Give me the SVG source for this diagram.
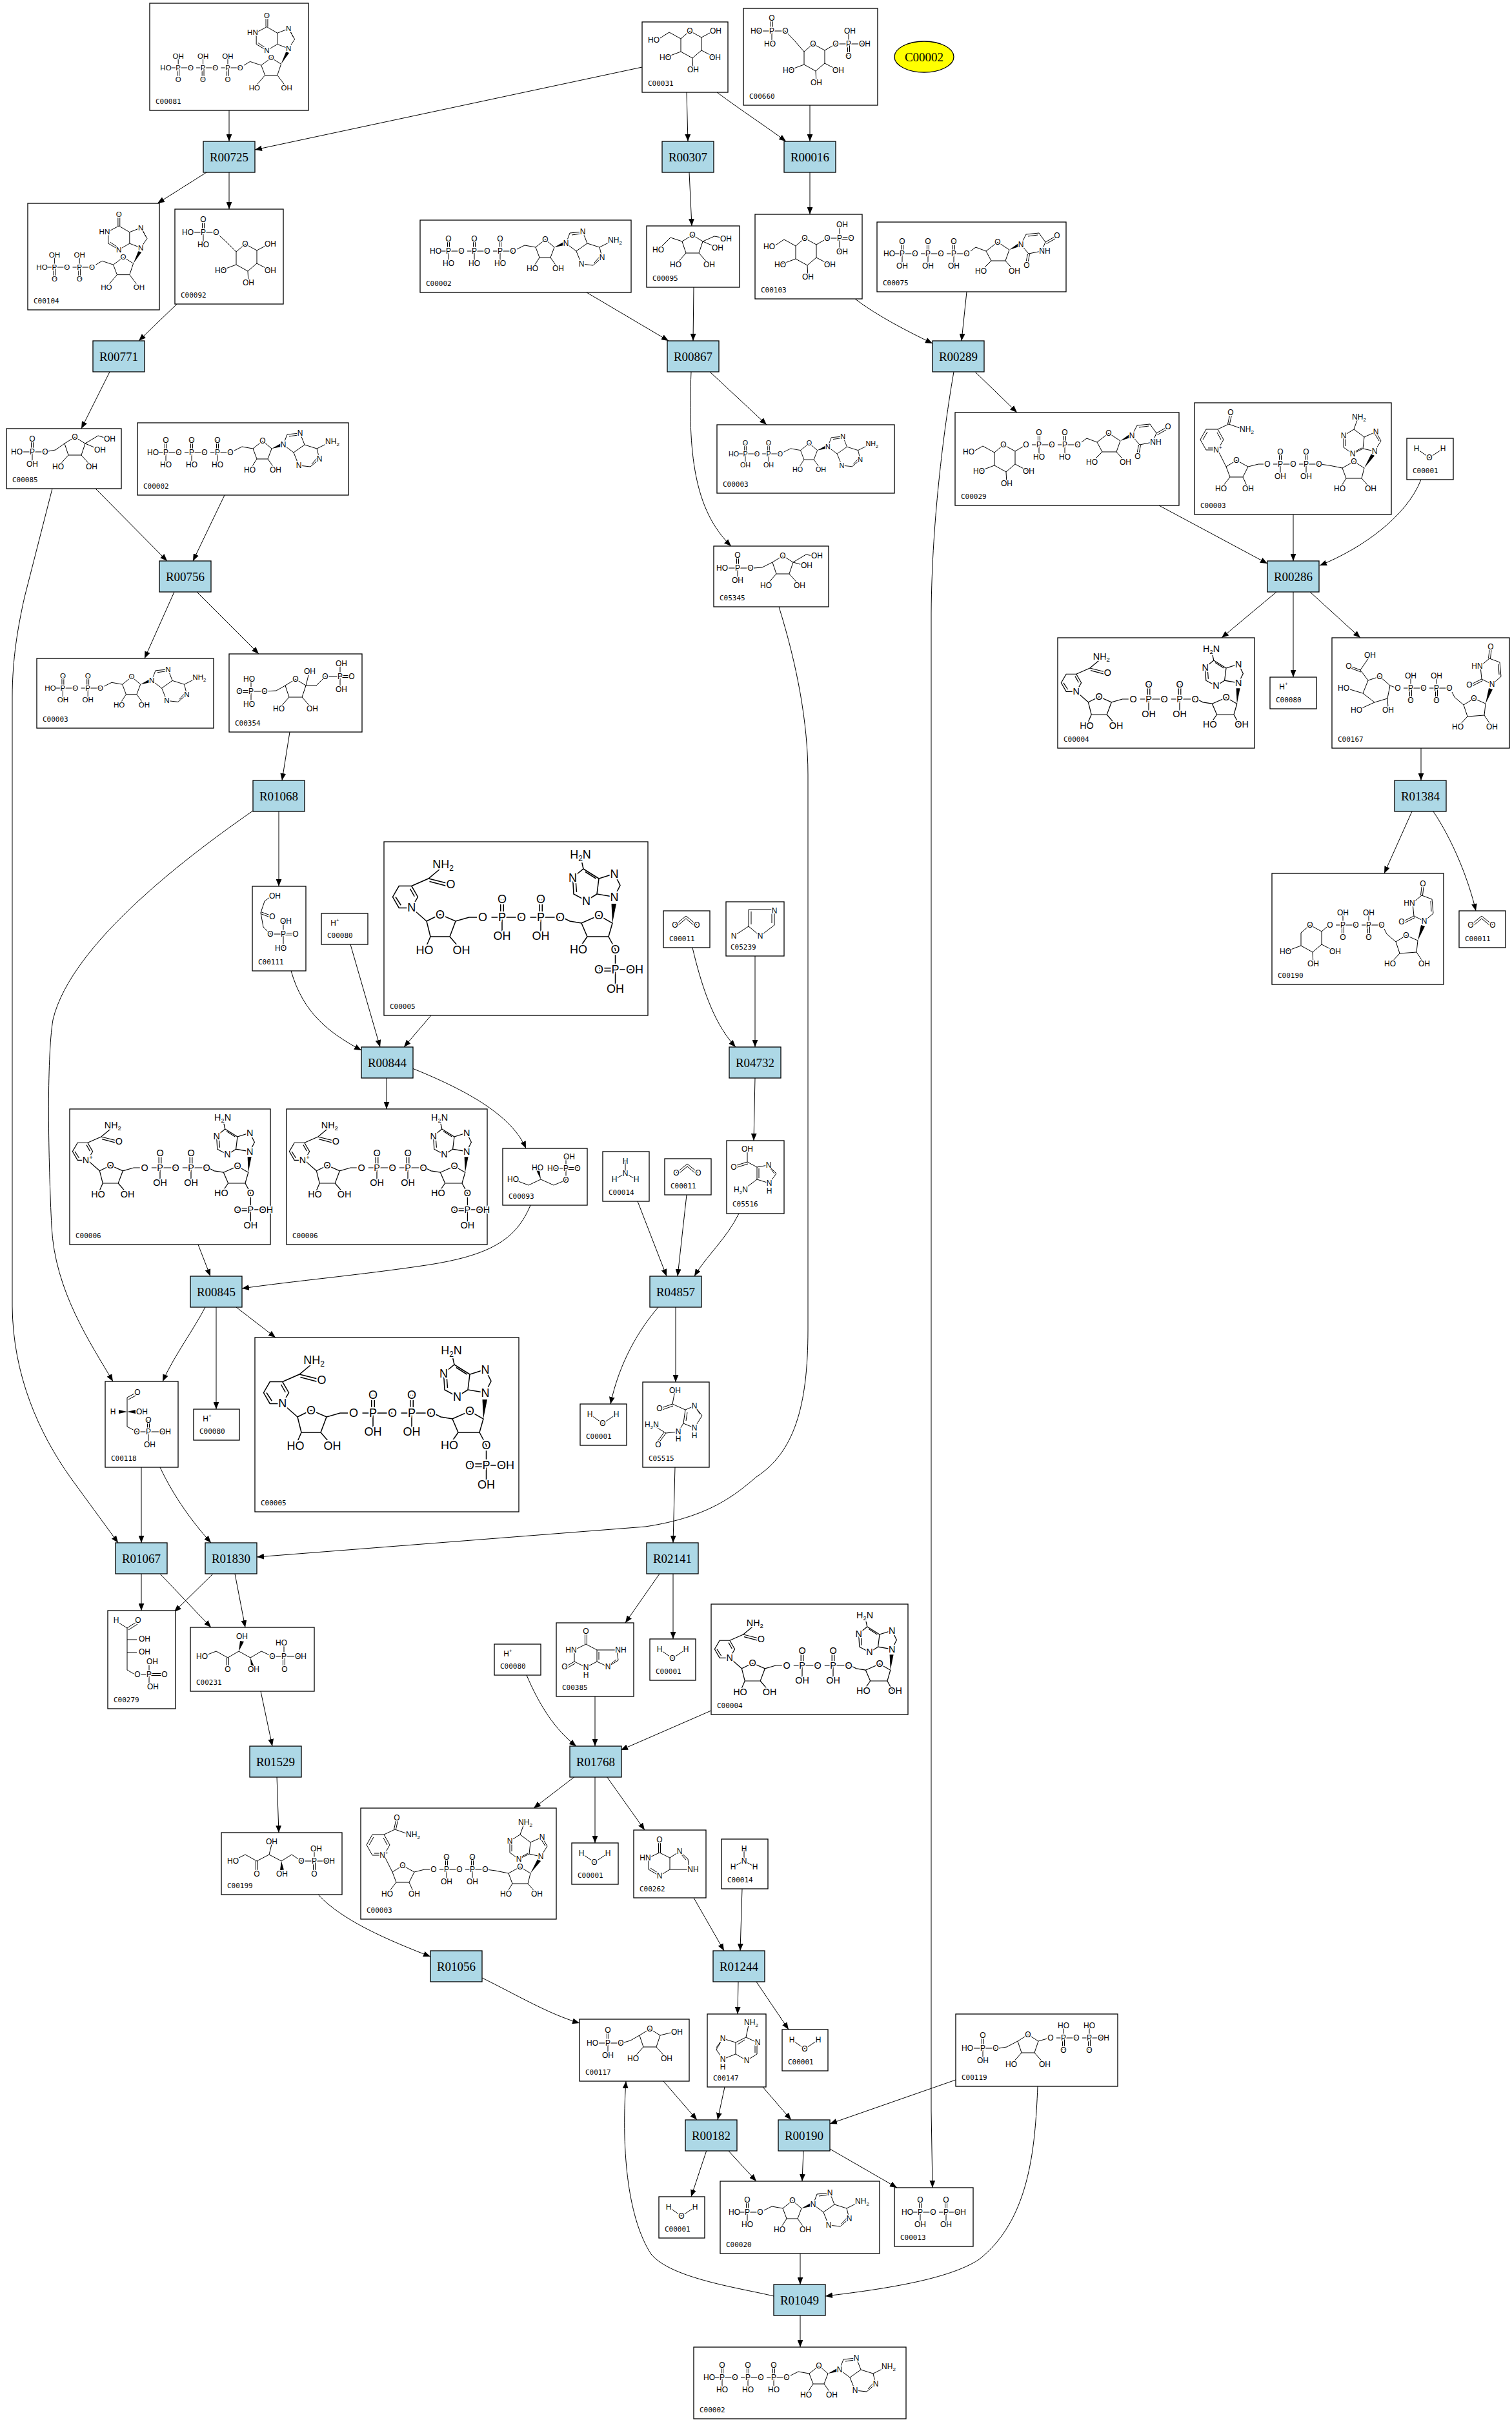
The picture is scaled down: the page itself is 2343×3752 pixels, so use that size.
<svg xmlns="http://www.w3.org/2000/svg" xmlns:xlink="http://www.w3.org/1999/xlink" width="2343" height="3752" viewBox="0 0 2343 3752">
<style>
.rx rect{fill:#add8e6;stroke:#000;stroke-width:1.3}
.rx text{font-family:"Liberation Serif","Times New Roman",serif;font-size:19px;text-anchor:middle;fill:#000}
.cp>rect{fill:#fff;stroke:#000;stroke-width:1.3}
.id{font-family:"DejaVu Sans Mono","Liberation Mono",monospace;font-size:11px;fill:#000;text-anchor:start}
.m{font-family:"Liberation Sans",Arial,sans-serif;font-size:12px;text-anchor:middle}
.a{fill:#000;stroke:#fff;stroke-width:3px;paint-order:stroke;stroke-linejoin:round}
.b{fill:none;stroke:#000;stroke-width:1}
.w{fill:#000;stroke:none}
.s{font-size:8px}
#connectors path{fill:none;stroke:#000;stroke-width:1;marker-end:url(#ah)}
</style>
<defs>
<marker id="ah" viewBox="0 0 10 8" refX="10" refY="4" markerWidth="11" markerHeight="9" markerUnits="userSpaceOnUse" orient="auto"><path d="M0,0L10,4L0,8Z" fill="#000"/></marker>
<g id="pa"><path class="b" d="M9,0H40M20,0V19M18.5,0V-19M21.5,0V-19"/><text class="a" x="20" y="4">P</text><text class="a" x="20" y="-15">O</text><text class="a" x="20" y="23">HO</text><text class="a" x="40" y="4">O</text></g>
<g id="pb"><path class="b" d="M9,0H40M20,0V19M18.5,0V-19M21.5,0V-19"/><text class="a" x="20" y="4">P</text><text class="a" x="20" y="-15">O</text><text class="a" x="20" y="23">OH</text><text class="a" x="40" y="4">O</text></g>
<g id="pv"><path class="b" d="M9,0H40M20,0V-19M18.5,0V19M21.5,0V19"/><text class="a" x="20" y="4">P</text><text class="a" x="20" y="-15">OH</text><text class="a" x="20" y="23">O</text><text class="a" x="40" y="4">O</text></g>
<g id="pw"><path class="b" d="M9,0H40M20,0V-19M18.5,0V19M21.5,0V19"/><text class="a" x="20" y="4">P</text><text class="a" x="20" y="-15">HO</text><text class="a" x="20" y="23">O</text><text class="a" x="40" y="4">O</text></g>
<g id="adn"><path class="b" d="M6,-3L18,-9L35,-6L50,-18L64,-6L58,10L41,10L35,-6M41,10L30,27M58,10L70,27M82,-12L88,-28L108,-30L115,-12L98,0L82,-12M91,-25L105,-27M115,-12L134,-6L138,10L124,22L106,20L98,0M126,18L134,9M134,-6L152,-15"/><path class="w" d="M64,-6L78,-14L79,-9Z"/><text class="a" x="50" y="-14">O</text><text class="a" x="30" y="31">HO</text><text class="a" x="70" y="31">OH</text><text class="a" x="82" y="-8">N</text><text class="a" x="108" y="-26">N</text><text class="a" x="138" y="14">N</text><text class="a" x="106" y="24">N</text><text class="a" x="158" y="-13">NH<tspan class="s" dy="3">2</tspan></text></g>
<g id="hyp"><path class="b" d="M6,-4L16,-10L34,-4L50,-16L66,-6L60,12L40,12L34,-4M40,12L23,32M60,12L75,32M43,-66L26,-57L26,-38L43,-28L60,-38L60,-56L43,-66M60,-56L78,-63L88,-46L78,-31L60,-38M41.5,-66V-84M44.5,-66V-84M29,-40L41,-32M81,-59L86,-49"/><path class="w" d="M66,-6L74,-26L79,-24Z"/><text class="a" x="50" y="-12">O</text><text class="a" x="23" y="36">HO</text><text class="a" x="75" y="36">OH</text><text class="a" x="43" y="-80">O</text><text class="a" x="20" y="-53">HN</text><text class="a" x="43" y="-24">N</text><text class="a" x="78" y="-59">N</text><text class="a" x="78" y="-27">N</text></g>
<g id="urd"><path class="b" d="M6,-4L14,-10L30,-4L48,-18L66,-6L60,11L38,11L30,-4M38,11L22,27M60,11L74,27M84,-14L92,-30L112,-32L122,-18L116,-4L96,0L84,-14M95,-27L110,-29M122,-18L136,-26M123.5,-15.4L137.5,-23.4M94.5,0L91.5,16M97.5,0.5L94.5,16.5"/><path class="w" d="M66,-6L80,-16L81,-11Z"/><text class="a" x="48" y="-14">O</text><text class="a" x="22" y="31">HO</text><text class="a" x="74" y="31">OH</text><text class="a" x="84" y="-10">N</text><text class="a" x="140" y="-24">O</text><text class="a" x="121" y="0">NH</text><text class="a" x="93" y="22">O</text></g>
<g id="urd2"><path class="b" d="M4,6L8,14L22,26L38,16L56,24L54,42L28,44L22,26M28,44L13,60M54,42L66,60M66,-6L50,-14L48,-34L62,-46L78,-40L80,-18L66,-6M76,-37L77,-21M50,-14L32,-5M51.5,-11.4L33.5,-2.4M60.5,-46L62.5,-63M63.5,-46L65.5,-63"/><path class="w" d="M56,24L61,0L67,2Z"/><text class="a" x="38" y="20">O</text><text class="a" x="13" y="64">HO</text><text class="a" x="66" y="64">OH</text><text class="a" x="66" y="-2">N</text><text class="a" x="43" y="-30">HN</text><text class="a" x="31" y="-1">O</text><text class="a" x="64" y="-60">O</text></g>
<g id="glc"><path class="b" d="M0,0L18,10L18,30L4,42L-14,32L-14,12Z M18,30L39,41M4,42L5,60M-14,32L-38,41"/><text class="a" x="0" y="4">O</text><text class="a" x="39" y="45">OH</text><text class="a" x="5" y="64">OH</text><text class="a" x="-38" y="45">HO</text></g>
<g id="fur"><path class="b" d="M0,0L16,10L10,28L-10,28L-16,10Z M-10,28L-26,46M10,28L26,46"/><text class="a" x="0" y="4">O</text><text class="a" x="-26" y="50">HO</text><text class="a" x="26" y="50">OH</text></g>
<g id="ph"><path class="b" d="M9,0H44M22.5,0V-19M25.5,0V-19M24,0V19"/><text class="a" x="0" y="4">HO</text><text class="a" x="24" y="4">P</text><text class="a" x="24" y="-16">O</text><text class="a" x="44" y="4">O</text></g>
<g id="nic"><path class="b" d="M-6,0L-14,0L-30,4L-48,-6L-64,4L-58,20L-38,20L-30,4M-58,20L-72,38M-38,20L-30,38M-64,4L-77,-22M-77,-22L-68,-38L-77,-54L-95,-54L-104,-38L-95,-22Z M-72,-38L-78,-49M-93,-50L-100,-38M-92,-25L-80,-25M-77,-54L-60,-62L-40,-55M-61.5,-62L-58,-78M-58.5,-62.5L-55,-78"/><text class="a" x="-48" y="-2">O</text><text class="a" x="-72" y="42">HO</text><text class="a" x="-30" y="42">OH</text><text class="a" x="-57" y="-76">O</text><text class="a" x="-32" y="-50">NH<tspan class="s" dy="3">2</tspan></text></g>
<g id="nicp"><path class="b" d="M-6,0L-14,0L-28,4L-44,-3L-58,4L-54,20L-34,20L-28,4M-54,20L-60,34M-34,20L-22,34M-58,4L-73.5,-9.7L-67,-21L-73.5,-32.3L-86.5,-32.3L-93,-21L-86.5,-9.7L-73.5,-9.7M-70.5,-21.5L-75,-29.5M-84.5,-12.5L-90,-21M-73.5,-32.3L-56,-40L-44,-50M-56,-40L-36,-35M-55,-37L-36,-32"/><text class="a" x="-44" y="1">O</text><text class="a" x="-60" y="38">HO</text><text class="a" x="-22" y="38">OH</text><text class="a" x="-33" y="-30">O</text><text class="a" x="-41" y="-51">NH<tspan class="s" dy="3">2</tspan></text></g>
<g id="adn2"><path class="b" d="M5,0.5L16,2L36,6L54,-4L70,6L66,22L42,22L36,6M42,22L32,38M66,22L80,38M86,-20L96,-36L88,-50L70,-42L68,-24L86,-20M93,-36L87,-46M68,-24L52,-16L38,-26L38,-44L54,-54L70,-42M41,-28L41,-42M55,-19L66,-25M54,-54L59,-68"/><path class="w" d="M70,6L81,-16L86,-13Z"/><text class="a" x="54" y="0">O</text><text class="a" x="32" y="42">HO</text><text class="a" x="80" y="42">OH</text><text class="a" x="86" y="-16">N</text><text class="a" x="88" y="-46">N</text><text class="a" x="52" y="-12">N</text><text class="a" x="38" y="-40">N</text><text class="a" x="62" y="-69">NH<tspan class="s" dy="3">2</tspan></text></g>
<g id="adn2c"><path class="b" d="M5,1.5L10,4L22,6L40,-2L54,6L50,20L28,20L22,6M28,20L19,33M50,20L57,33M56,-21L62,-33L56,-45L40,-40L38,-24L56,-21M38,-24L27,-17L14,-24L13,-41L24,-50L40,-40M17,-26L16,-39M26,-47L37,-40M24,-50L22,-59"/><path class="w" d="M54,6L53,-14L58,-14Z"/><text class="a" x="40" y="2">O</text><text class="a" x="19" y="37">HO</text><text class="a" x="56" y="-17">N</text><text class="a" x="56" y="-41">N</text><text class="a" x="27" y="-13">N</text><text class="a" x="13" y="-37">N</text><text class="a" x="21" y="-61">H<tspan class="s" dy="3">2</tspan><tspan dy="-3">N</tspan></text></g>
<g id="p2"><path class="b" d="M0,0V21M0,19.5H-17M0,22.5H-17M0,21H20M0,21V41"/><text class="a" x="0" y="4">O</text><text class="a" x="0" y="25">P</text><text class="a" x="-17" y="25">O</text><text class="a" x="20" y="25">OH</text><text class="a" x="0" y="45">OH</text></g>
<g id="wat"><path class="b" d="M15,16L35,30L56,16"/><text class="a" x="15" y="20">H</text><text class="a" x="35" y="34">O</text><text class="a" x="56" y="20">H</text></g>
<g id="co2"><path class="b" d="M18,22L35,8L52,22M22,23L35,12L48,23"/><text class="a" x="18" y="26">O</text><text class="a" x="52" y="26">O</text></g>
<g id="hp"><text class="a" x="21" y="19">H<tspan class="s" dy="-6">+</tspan></text></g>
<g id="nh3"><path class="b" d="M35,15V34L18,43M35,34L52,43"/><text class="a" x="35" y="19">H</text><text class="a" x="35" y="38">N</text><text class="a" x="18" y="47">H</text><text class="a" x="52" y="47">H</text></g>
</defs>
<rect width="2343" height="3752" fill="#fff"/>
<g id="connectors">
<path d="M355,171L355,219"/>
<path d="M995,104L395,232"/>
<path d="M1064,143L1066,219"/>
<path d="M1111,143C1150,172 1190,198 1218,219"/>
<path d="M320,267L244,315"/>
<path d="M355,267L355,324"/>
<path d="M1068,267L1072,350"/>
<path d="M1255,163L1255,219"/>
<path d="M274,471L215,528"/>
<path d="M909,453L1036,528"/>
<path d="M1075,445L1074,528"/>
<path d="M1255,267L1255,332"/>
<path d="M1325,463C1360,490 1410,515 1445,532"/>
<path d="M1498,452L1490,528"/>
<path d="M170,576L126,664"/>
<path d="M1100,576L1188,658"/>
<path d="M1071,576C1066,700 1075,790 1133,846"/>
<path d="M1511,576L1576,639"/>
<path d="M1478,576C1465,650 1444,800 1443,950L1443,3270L1445,3389"/>
<path d="M81,757L38,925C28,970 19,1020 19,1080L19,2024C20,2130 60,2220 110,2290L183,2390"/>
<path d="M148,757L259,869"/>
<path d="M348,767L299,869"/>
<path d="M270,917L224,1020"/>
<path d="M305,917L401,1013"/>
<path d="M449,1134L437,1209"/>
<path d="M432,1257L432,1373"/>
<path d="M392,1256C300,1320 110,1460 82,1580C72,1640 75,1800 80,1900C85,2000 140,2080 175,2140"/>
<path d="M451,1504C470,1570 510,1600 560,1627"/>
<path d="M543,1463L589,1622"/>
<path d="M668,1573L626,1622"/>
<path d="M1073,1468C1090,1540 1110,1590 1140,1622"/>
<path d="M1170,1481L1170,1622"/>
<path d="M599,1670L599,1718"/>
<path d="M639,1655C700,1680 790,1720 815,1779"/>
<path d="M1170,1670L1168,1767"/>
<path d="M307,1928L326,1977"/>
<path d="M822,1867C800,1920 760,1945 660,1960C560,1975 450,1985 375,1996"/>
<path d="M988,1861L1033,1977"/>
<path d="M1064,1851L1050,1977"/>
<path d="M1145,1880C1125,1920 1095,1945 1076,1977"/>
<path d="M318,2025C300,2060 270,2100 252,2140"/>
<path d="M335,2025L335,2183"/>
<path d="M366,2025L427,2072"/>
<path d="M1020,2025C990,2060 960,2110 946,2175"/>
<path d="M1047,2025L1047,2141"/>
<path d="M219,2273L219,2390"/>
<path d="M248,2273C270,2320 300,2360 327,2390"/>
<path d="M1046,2273L1043,2390"/>
<path d="M1207,940C1235,1030 1252,1120 1252,1200L1252,2060C1252,2180 1230,2250 1172,2288C1140,2315 1100,2350 1000,2365L398,2412"/>
<path d="M219,2438L219,2495"/>
<path d="M248,2438L327,2521"/>
<path d="M330,2438L270,2497"/>
<path d="M364,2438L380,2521"/>
<path d="M1022,2438L969,2514"/>
<path d="M1043,2438L1043,2539"/>
<path d="M404,2620L422,2705"/>
<path d="M816,2595C835,2640 860,2680 893,2705"/>
<path d="M922,2628L922,2705"/>
<path d="M1102,2650L962,2711"/>
<path d="M429,2752L432,2839"/>
<path d="M891,2752L827,2801"/>
<path d="M922,2752L922,2855"/>
<path d="M940,2752L999,2835"/>
<path d="M493,2935C530,2975 600,3005 667,3031"/>
<path d="M1075,2940L1122,3022"/>
<path d="M1150,2926L1147,3022"/>
<path d="M747,3064C800,3090 850,3120 898,3134"/>
<path d="M1144,3070L1143,3120"/>
<path d="M1172,3070L1222,3144"/>
<path d="M1028,3224L1080,3284"/>
<path d="M1123,3233L1112,3284"/>
<path d="M1182,3233L1226,3284"/>
<path d="M1481,3222L1286,3290"/>
<path d="M1608,3232C1604,3330 1595,3440 1516,3501C1470,3530 1380,3545 1279,3557"/>
<path d="M1095,3331L1071,3403"/>
<path d="M1128,3331L1172,3379"/>
<path d="M1245,3331L1243,3379"/>
<path d="M1286,3329L1390,3389"/>
<path d="M1240,3491L1240,3539"/>
<path d="M1199,3557C1150,3545 1040,3530 1009,3492C975,3440 962,3340 970,3224"/>
<path d="M1240,3587L1240,3636"/>
<path d="M1796,783L1964,873"/>
<path d="M2004,797L2004,869"/>
<path d="M2202,743C2180,800 2110,850 2045,876"/>
<path d="M1978,917L1893,988"/>
<path d="M2004,917L2004,1049"/>
<path d="M2030,917L2108,988"/>
<path d="M2202,1159L2202,1209"/>
<path d="M2188,1257L2145,1353"/>
<path d="M2221,1257C2250,1300 2275,1360 2287,1411"/>
</g>
<g id="R00725" class="rx"><rect x="315" y="219" width="80" height="48"/><text x="355" y="250">R00725</text></g>
<g id="R00307" class="rx"><rect x="1026" y="219" width="80" height="48"/><text x="1066" y="250">R00307</text></g>
<g id="R00016" class="rx"><rect x="1215" y="219" width="80" height="48"/><text x="1255" y="250">R00016</text></g>
<g id="R00771" class="rx"><rect x="144" y="528" width="80" height="48"/><text x="184" y="559">R00771</text></g>
<g id="R00867" class="rx"><rect x="1034" y="528" width="80" height="48"/><text x="1074" y="559">R00867</text></g>
<g id="R00289" class="rx"><rect x="1445" y="528" width="80" height="48"/><text x="1485" y="559">R00289</text></g>
<g id="R00756" class="rx"><rect x="247" y="869" width="80" height="48"/><text x="287" y="900">R00756</text></g>
<g id="R00286" class="rx"><rect x="1964" y="869" width="80" height="48"/><text x="2004" y="900">R00286</text></g>
<g id="R01068" class="rx"><rect x="392" y="1209" width="80" height="48"/><text x="432" y="1240">R01068</text></g>
<g id="R01384" class="rx"><rect x="2161" y="1209" width="80" height="48"/><text x="2201" y="1240">R01384</text></g>
<g id="R00844" class="rx"><rect x="560" y="1622" width="80" height="48"/><text x="600" y="1653">R00844</text></g>
<g id="R04732" class="rx"><rect x="1130" y="1622" width="80" height="48"/><text x="1170" y="1653">R04732</text></g>
<g id="R00845" class="rx"><rect x="295" y="1977" width="80" height="48"/><text x="335" y="2008">R00845</text></g>
<g id="R04857" class="rx"><rect x="1007" y="1977" width="80" height="48"/><text x="1047" y="2008">R04857</text></g>
<g id="R01067" class="rx"><rect x="179" y="2390" width="80" height="48"/><text x="219" y="2421">R01067</text></g>
<g id="R01830" class="rx"><rect x="318" y="2390" width="80" height="48"/><text x="358" y="2421">R01830</text></g>
<g id="R02141" class="rx"><rect x="1002" y="2390" width="80" height="48"/><text x="1042" y="2421">R02141</text></g>
<g id="R01529" class="rx"><rect x="387" y="2705" width="80" height="48"/><text x="427" y="2736">R01529</text></g>
<g id="R01768" class="rx"><rect x="883" y="2705" width="80" height="48"/><text x="923" y="2736">R01768</text></g>
<g id="R01056" class="rx"><rect x="667" y="3022" width="80" height="48"/><text x="707" y="3053">R01056</text></g>
<g id="R01244" class="rx"><rect x="1105" y="3022" width="80" height="48"/><text x="1145" y="3053">R01244</text></g>
<g id="R00182" class="rx"><rect x="1062" y="3284" width="80" height="48"/><text x="1102" y="3315">R00182</text></g>
<g id="R00190" class="rx"><rect x="1206" y="3284" width="80" height="48"/><text x="1246" y="3315">R00190</text></g>
<g id="R01049" class="rx"><rect x="1199" y="3539" width="80" height="48"/><text x="1239" y="3570">R01049</text></g>
<g id="C00002_e"><ellipse cx="1432" cy="88" rx="46" ry="24" fill="#ffff00" stroke="#000" stroke-width="1.3"/><text x="1432" y="95" font-family="Liberation Serif, Times New Roman, serif" font-size="19" text-anchor="middle">C00002</text></g>
<g id="C00081" class="cp"><rect x="232" y="5" width="246" height="166"/><g class="m" transform="translate(257,105) scale(.96)"><text class="a" y="4">HO</text><use href="#pv"/><use href="#pv" x="40"/><use href="#pv" x="80"/><use href="#hyp" x="120"/></g><text class="id" x="241" y="161">C00081</text></g>
<g id="C00031" class="cp"><rect x="995" y="34" width="133" height="109"/><g class="m" transform="translate(1069,48)"><use href="#glc"/><path class="b" d="M-14,12L-32,2L-46,11M18,10L31,3"/><text class="a" x="-56" y="18">HO</text><text class="a" x="40" y="4">OH</text></g><text class="id" x="1004" y="133">C00031</text></g>
<g id="C00660" class="cp"><rect x="1152" y="13" width="208" height="150"/><g class="m" transform="translate(1260,68)"><use href="#glc"/><path class="b" d="M-14,12L-28,-4L-43,-20H-88M-65.5,-20V-40M-62.5,-20V-40M-64,-20V0M18,10L35,0H80M55,0V-20M53.5,0V19M56.5,0V19"/><text class="a" x="-43" y="-16">O</text><text class="a" x="-64" y="-16">P</text><text class="a" x="-88" y="-16">HO</text><text class="a" x="-64" y="-36">O</text><text class="a" x="-67" y="4">HO</text><text class="a" x="35" y="4">O</text><text class="a" x="55" y="4">P</text><text class="a" x="80" y="4">OH</text><text class="a" x="57" y="-16">OH</text><text class="a" x="55" y="23">O</text></g><text class="id" x="1161" y="153">C00660</text></g>
<g id="C00104" class="cp"><rect x="43" y="315" width="204" height="165"/><g class="m" transform="translate(65,414) scale(.97)"><text class="a" y="4">HO</text><use href="#pv"/><use href="#pv" x="40"/><use href="#hyp" x="80"/></g><text class="id" x="52" y="470">C00104</text></g>
<g id="C00092" class="cp"><rect x="271" y="324" width="168" height="147"/><g class="m" transform="translate(380,378)"><use href="#glc"/><use href="#ph" x="-89" y="-18"/><path class="b" d="M-14,12L-30,-4L-40,-13M18,10L31,3"/><text class="a" x="39" y="4">OH</text><text class="a" x="-65" y="5">HO</text></g><text class="id" x="280" y="461">C00092</text></g>
<g id="C00002_1" class="cp"><rect x="651" y="341" width="327" height="112"/><g class="m" transform="translate(675,389)"><text class="a" y="4">HO</text><use href="#pa"/><use href="#pa" x="40"/><use href="#pa" x="80"/><use href="#adn" x="120"/></g><text class="id" x="660" y="443">C00002</text></g>
<g id="C00095" class="cp"><rect x="1002" y="350" width="144" height="95"/><g class="m" transform="translate(1073,364)"><use href="#fur"/><path class="b" d="M-16,10L-34,4L-47,17M16,10L34,2L45,4M16,10L30,16"/><text class="a" x="-53" y="27">HO</text><text class="a" x="52" y="10">OH</text><text class="a" x="39" y="24">OH</text></g><text class="id" x="1011" y="435">C00095</text></g>
<g id="C00103" class="cp"><rect x="1170" y="332" width="166" height="131"/><g class="m" transform="translate(1247,369)"><use href="#glc"/><path class="b" d="M-14,12L-32,2L-47,12M18,10L30,3M35,0H54M54,-1.5H72M54,1.5H72M54,0V-21M54,0V21"/><text class="a" x="-55" y="17">HO</text><text class="a" x="35" y="4">O</text><text class="a" x="54" y="4">P</text><text class="a" x="72" y="4">O</text><text class="a" x="58" y="-17">OH</text><text class="a" x="58" y="25">OH</text></g><text class="id" x="1179" y="453">C00103</text></g>
<g id="C00075" class="cp"><rect x="1359" y="344" width="293" height="108"/><g class="m" transform="translate(1378,393)"><text class="a" y="4">HO</text><use href="#pb"/><use href="#pb" x="40"/><use href="#pb" x="80"/><use href="#urd" x="120"/></g><text class="id" x="1368" y="442">C00075</text></g>
<g id="C00085" class="cp"><rect x="10" y="664" width="178" height="93"/><g class="m" transform="translate(116,677)"><use href="#fur"/><use href="#ph" x="-90" y="23"/><path class="b" d="M-16,10L-30,20L-41,22M16,10L36,-2L46,1M16,10L30,16"/><text class="a" x="-66" y="46">OH</text><text class="a" x="54" y="7">OH</text><text class="a" x="39" y="24">OH</text></g><text class="id" x="19" y="747">C00085</text></g>
<g id="C00002_2" class="cp"><rect x="213" y="655" width="327" height="112"/><g class="m" transform="translate(237,701)"><text class="a" y="4">HO</text><use href="#pa"/><use href="#pa" x="40"/><use href="#pa" x="80"/><use href="#adn" x="120"/></g><text class="id" x="222" y="757">C00002</text></g>
<g id="C00003_1" class="cp"><rect x="1111" y="658" width="275" height="106"/><g class="m" transform="translate(1137,703) scale(.9)"><text class="a" y="4">HO</text><use href="#pb"/><use href="#pb" x="40"/><use href="#adn" x="80"/></g><text class="id" x="1120" y="754">C00003</text></g>
<g id="C05345" class="cp"><rect x="1106" y="846" width="178" height="94"/><g class="m" transform="translate(1213,861)"><use href="#fur"/><use href="#ph" x="-94" y="19"/><path class="b" d="M-16,10L-32,18L-45,19M16,10L36,-2L46,0M16,10L30,14"/><text class="a" x="-70" y="42">OH</text><text class="a" x="53" y="4">OH</text><text class="a" x="37" y="19">OH</text></g><text class="id" x="1115" y="930">C05345</text></g>
<g id="C00029" class="cp"><rect x="1480" y="639" width="347" height="144"/><g class="m" transform="translate(1555,689)"><use href="#glc"/><path class="b" d="M-14,12L-32,2L-46,10M18,10L30,3"/><text class="a" x="-54" y="15">HO</text><text class="a" x="35" y="4">O</text><use href="#pa" x="35"/><use href="#pa" x="75"/><use href="#urd" x="115"/></g><text class="id" x="1489" y="773">C00029</text></g>
<g id="C00003_2" class="cp"><rect x="1851" y="624" width="305" height="173"/><g class="m" transform="translate(1964,719)"><use href="#nic"/><text class="a" x="-77" y="-18">N<tspan class="s" dy="-5">+</tspan></text><text class="a" y="4">O</text><use href="#pb"/><use href="#pb" x="40"/><use href="#adn2" x="80"/></g><text class="id" x="1860" y="787">C00003</text></g>
<g id="C00001_1" class="cp"><rect x="2180" y="679" width="72" height="64"/><use class="m" href="#wat" x="2180" y="679"/><text class="id" x="2189" y="733">C00001</text></g>
<g id="C00003_3" class="cp"><rect x="57" y="1020" width="274" height="108"/><g class="m" transform="translate(78,1066) scale(.97)"><text class="a" y="4">HO</text><use href="#pb"/><use href="#pb" x="40"/><use href="#adn" x="80"/></g><text class="id" x="66" y="1118">C00003</text></g>
<g id="C00354" class="cp"><rect x="355" y="1013" width="206" height="121"/><g class="m" transform="translate(458,1052)"><use href="#fur"/><path class="b" d="M-16,10L-30,18L-48,19H-69M-69,17.5H-87M-69,20.5H-87M-69,19V0M-69,19V38M16,10L20,-6M16,10L32,10L46,-4H69M69,-5.5H86M69,-2.5H86M69,-4V-24M69,-4V16"/><text class="a" x="-48" y="23">O</text><text class="a" x="-69" y="23">P</text><text class="a" x="-87" y="23">O</text><text class="a" x="-72" y="4">HO</text><text class="a" x="-72" y="43">HO</text><text class="a" x="22" y="-8">OH</text><text class="a" x="46" y="0">O</text><text class="a" x="69" y="0">P</text><text class="a" x="87" y="0">O</text><text class="a" x="71" y="-20">OH</text><text class="a" x="71" y="20">OH</text></g><text class="id" x="364" y="1124">C00354</text></g>
<g id="C00004_1" class="cp"><rect x="1639" y="988" width="305" height="171"/><g class="m" transform="translate(1756,1083) scale(1.2)"><use href="#nicp"/><text class="a" x="-73.5" y="-5.7">N</text><text class="a" y="4">O</text><use href="#pb"/><use href="#pb" x="40"/><use href="#adn2c" x="80"/><text class="a" x="140" y="37">OH</text></g><text class="id" x="1648" y="1149">C00004</text></g>
<g id="C00080_1" class="cp"><rect x="1968" y="1049" width="72" height="49"/><use class="m" href="#hp" x="1968" y="1049"/><text class="id" x="1977" y="1088">C00080</text></g>
<g id="C00167" class="cp"><rect x="2064" y="988" width="275" height="171"/><g class="m" transform="translate(2138,1048)"><path class="b" d="M0,0L16,14L12,34L-8,40L-26,26L-18,6Z M-18,6L-30,-10L-17,-29M-30,-10L-46,-16M-29,-7L-45,-13M-26,26L-46,20M-8,40L-30,50M12,34L13,48M16,14L24,17"/><text class="a" x="0" y="4">O</text><text class="a" x="-15" y="-29">OH</text><text class="a" x="-48" y="-12">O</text><text class="a" x="-56" y="22">HO</text><text class="a" x="-36" y="56">HO</text><text class="a" x="13" y="56">OH</text><text class="a" x="28" y="22">O</text><use href="#pv" x="28" y="18"/><use href="#pv" x="68" y="18"/><use href="#urd2" x="108" y="18"/></g><text class="id" x="2073" y="1149">C00167</text></g>
<g id="C00190" class="cp"><rect x="1971" y="1353" width="266" height="172"/><g class="m" transform="translate(2030,1433)"><use href="#glc"/><path class="b" d="M18,10L26,3"/><text class="a" x="31" y="4">O</text><use href="#pv" x="31"/><use href="#pv" x="71"/><use href="#urd2" x="111"/></g><text class="id" x="1980" y="1515">C00190</text></g>
<g id="C00011_3" class="cp"><rect x="2261" y="1411" width="72" height="57"/><use class="m" href="#co2" x="2261" y="1411"/><text class="id" x="2270" y="1458">C00011</text></g>
<g id="C00005_1" class="cp"><rect x="595" y="1304" width="409" height="269"/><g class="m" transform="translate(748,1421) scale(1.5)"><use href="#nicp"/><text class="a" x="-73.5" y="-5.7">N</text><text class="a" y="4">O</text><use href="#pb"/><use href="#pb" x="40"/><use href="#adn2c" x="80"/><use href="#p2" x="137" y="33"/></g><text class="id" x="604" y="1563">C00005</text></g>
<g id="C00111" class="cp"><rect x="391" y="1373" width="83" height="131"/><g class="m"><path class="b" d="M418,1390L410,1396L404,1414L408,1436L419,1447H439M404,1412.5L420,1418.5M404,1415.5L420,1421.5M439,1445.5H457M439,1448.5H457M439,1447V1427M439,1447V1469"/><text class="a" x="426" y="1392">OH</text><text class="a" x="422" y="1424">O</text><text class="a" x="419" y="1451">O</text><text class="a" x="439" y="1451">P</text><text class="a" x="458" y="1451">O</text><text class="a" x="443" y="1431">OH</text><text class="a" x="435" y="1473">HO</text></g><text class="id" x="400" y="1494">C00111</text></g>
<g id="C00080_2" class="cp"><rect x="498" y="1415" width="72" height="48"/><use class="m" href="#hp" x="498" y="1415"/><text class="id" x="507" y="1453">C00080</text></g>
<g id="C00011_1" class="cp"><rect x="1028" y="1411" width="72" height="57"/><use class="m" href="#co2" x="1028" y="1411"/><text class="id" x="1037" y="1458">C00011</text></g>
<g id="C05239" class="cp"><rect x="1125" y="1397" width="90" height="84"/><g class="m"><path class="b" d="M1137,1450L1160,1435V1409H1200V1433L1178,1450L1160,1435M1164,1432V1412M1196,1415V1430"/><text class="a" x="1137" y="1454">N</text><text class="a" x="1200" y="1415">N</text><text class="a" x="1178" y="1454">N</text></g><text class="id" x="1132" y="1471">C05239</text></g>
<g id="C00006_1" class="cp"><rect x="108" y="1718" width="311" height="210"/><g class="m" transform="translate(224,1809) scale(1.2)"><use href="#nicp"/><text class="a" x="-73.5" y="-5.7">N<tspan class="s" dy="-5">+</tspan></text><text class="a" y="4">O</text><use href="#pb"/><use href="#pb" x="40"/><use href="#adn2c" x="80"/><use href="#p2" x="137" y="33"/></g><text class="id" x="117" y="1918">C00006</text></g>
<g id="C00006_2" class="cp"><rect x="444" y="1718" width="311" height="210"/><g class="m" transform="translate(560,1809) scale(1.2)"><use href="#nicp"/><text class="a" x="-73.5" y="-5.7">N<tspan class="s" dy="-5">+</tspan></text><text class="a" y="4">O</text><use href="#pb"/><use href="#pb" x="40"/><use href="#adn2c" x="80"/><use href="#p2" x="137" y="33"/></g><text class="id" x="453" y="1918">C00006</text></g>
<g id="C00093" class="cp"><rect x="779" y="1779" width="131" height="88"/><g class="m"><path class="b" d="M803,1830L819,1836L838,1827L858,1836L877,1828V1810H858M877,1808.5H895M877,1811.5H895M877,1810V1792"/><path class="w" d="M838,1827L831,1813L836,1812Z"/><text class="a" x="795" y="1831">HO</text><text class="a" x="833" y="1813">HO</text><text class="a" x="877" y="1832">O</text><text class="a" x="877" y="1814">P</text><text class="a" x="857" y="1814">HO</text><text class="a" x="895" y="1814">O</text><text class="a" x="882" y="1796">OH</text></g><text class="id" x="788" y="1857">C00093</text></g>
<g id="C00014_1" class="cp"><rect x="934" y="1784" width="72" height="77"/><use class="m" href="#nh3" x="934" y="1784"/><text class="id" x="943" y="1851">C00014</text></g>
<g id="C00011_2" class="cp"><rect x="1030" y="1795" width="72" height="56"/><use class="m" href="#co2" x="1030" y="1795"/><text class="id" x="1039" y="1841">C00011</text></g>
<g id="C05516" class="cp"><rect x="1126" y="1767" width="89" height="113"/><g class="m"><path class="b" d="M1158,1780L1158,1800L1173,1808L1190,1805L1203,1818L1192,1833L1173,1827L1173,1808M1158,1800L1139,1806M1159,1803L1140,1809M1176,1810L1176,1825M1193,1809L1200,1818M1173,1827L1152,1843"/><text class="a" x="1158" y="1784">OH</text><text class="a" x="1137" y="1812">O</text><text class="a" x="1191" y="1809">N</text><text class="a" x="1192" y="1837">N</text><text class="a" x="1192" y="1849">H</text><text class="a" x="1148" y="1847">H<tspan class="s" dy="3">2</tspan><tspan dy="-3">N</tspan></text></g><text class="id" x="1135" y="1869">C05516</text></g>
<g id="C00118" class="cp"><rect x="163" y="2140" width="113" height="133"/><g class="m"><path class="b" d="M197,2165L210,2158M199,2168L212,2161M197,2165V2210L212,2218H255M230,2218V2234M228.5,2218V2200M231.5,2218V2200"/><path class="w" d="M184,2184L184,2190L197,2187ZM210,2184L210,2190L197,2187Z"/><text class="a" x="213" y="2161">O</text><text class="a" x="175" y="2191">H</text><text class="a" x="220" y="2191">OH</text><text class="a" x="212" y="2222">O</text><text class="a" x="230" y="2222">P</text><text class="a" x="256" y="2222">OH</text><text class="a" x="230" y="2204">O</text><text class="a" x="232" y="2242">OH</text></g><text class="id" x="172" y="2263">C00118</text></g>
<g id="C00080_3" class="cp"><rect x="300" y="2183" width="71" height="48"/><use class="m" href="#hp" x="300" y="2183"/><text class="id" x="309" y="2221">C00080</text></g>
<g id="C00005_2" class="cp"><rect x="395" y="2072" width="409" height="270"/><g class="m" transform="translate(548,2189) scale(1.5)"><use href="#nicp"/><text class="a" x="-73.5" y="-5.7">N</text><text class="a" y="4">O</text><use href="#pb"/><use href="#pb" x="40"/><use href="#adn2c" x="80"/><use href="#p2" x="137" y="33"/></g><text class="id" x="404" y="2332">C00005</text></g>
<g id="C00001_2" class="cp"><rect x="899" y="2175" width="72" height="64"/><use class="m" href="#wat" x="899" y="2175"/><text class="id" x="908" y="2229">C00001</text></g>
<g id="C05515" class="cp"><rect x="996" y="2141" width="103" height="132"/><g class="m"><path class="b" d="M1046,2154L1042,2175L1062,2184L1076,2178L1088,2193L1076,2212L1059,2205L1062,2184M1042,2175L1025,2181M1043,2178L1026,2184M1065,2188L1063,2201M1079,2182L1085,2191M1059,2205L1051,2218L1032,2220L1012,2208M1032,2220L1021,2235M1029,2219L1018,2234"/><text class="a" x="1046" y="2158">OH</text><text class="a" x="1022" y="2186">O</text><text class="a" x="1076" y="2182">N</text><text class="a" x="1076" y="2216">N</text><text class="a" x="1076" y="2228">H</text><text class="a" x="1051" y="2222">N</text><text class="a" x="1051" y="2233">H</text><text class="a" x="1010" y="2211">H<tspan class="s" dy="3">2</tspan><tspan dy="-3">N</tspan></text><text class="a" x="1020" y="2242">O</text></g><text class="id" x="1005" y="2263">C05515</text></g>
<g id="C00279" class="cp"><rect x="167" y="2495" width="105" height="152"/><g class="m"><path class="b" d="M184,2514L197,2522M197,2522L211,2513M199,2525L213,2516M197,2522V2587L209,2594M197,2540H212M197,2560H212M217,2594H231M231,2592.5H250M231,2595.5H250M231,2594V2576M231,2594V2610"/><text class="a" x="180" y="2514">H</text><text class="a" x="214" y="2514">O</text><text class="a" x="224" y="2543">OH</text><text class="a" x="224" y="2563">OH</text><text class="a" x="213" y="2598">O</text><text class="a" x="231" y="2598">P</text><text class="a" x="255" y="2598">O</text><text class="a" x="236" y="2578">OH</text><text class="a" x="237" y="2617">OH</text></g><text class="id" x="176" y="2637">C00279</text></g>
<g id="C00231" class="cp"><rect x="295" y="2521" width="192" height="99"/><g class="m"><path class="b" d="M322,2563L335,2558L353,2568L370,2558L388,2568L405,2558L422,2566H466M351.5,2568V2584M354.5,2568V2584M440,2566V2549M438.5,2566V2584M441.5,2566V2584"/><path class="w" d="M370,2558L372,2542L378,2543ZM388,2568L389,2583L394,2582Z"/><text class="a" x="313" y="2570">HO</text><text class="a" x="353" y="2590">O</text><text class="a" x="375" y="2539">OH</text><text class="a" x="393" y="2590">OH</text><text class="a" x="422" y="2570">O</text><text class="a" x="440" y="2570">P</text><text class="a" x="466" y="2570">OH</text><text class="a" x="436" y="2549">HO</text><text class="a" x="441" y="2590">O</text></g><text class="id" x="304" y="2610">C00231</text></g>
<g id="C00385" class="cp"><rect x="862" y="2514" width="120" height="114"/><g class="m"><path class="b" d="M906.5,2531V2547M909.5,2531V2547M908,2547L890,2556L890,2574L908,2583L925,2574L925,2556L908,2547M890,2574L876,2582M891,2577L877,2585M925,2556L956,2556L958,2572L942,2582L925,2574M928,2559V2571M946,2578L955,2571"/><text class="a" x="908" y="2531">O</text><text class="a" x="885" y="2560">HN</text><text class="a" x="875" y="2586">O</text><text class="a" x="908" y="2587">N</text><text class="a" x="908" y="2599">H</text><text class="a" x="962" y="2560">NH</text><text class="a" x="942" y="2586">N</text></g><text class="id" x="871" y="2618">C00385</text></g>
<g id="C00001_3" class="cp"><rect x="1007" y="2539" width="71" height="64"/><use class="m" href="#wat" x="1007" y="2539"/><text class="id" x="1016" y="2593">C00001</text></g>
<g id="C00080_4" class="cp"><rect x="766" y="2547" width="72" height="48"/><use class="m" href="#hp" x="766" y="2547"/><text class="id" x="775" y="2585">C00080</text></g>
<g id="C00004_2" class="cp"><rect x="1102" y="2485" width="305" height="171"/><g class="m" transform="translate(1219,2580) scale(1.2)"><use href="#nicp"/><text class="a" x="-73.5" y="-5.7">N</text><text class="a" y="4">O</text><use href="#pb"/><use href="#pb" x="40"/><use href="#adn2c" x="80"/><text class="a" x="140" y="37">OH</text></g><text class="id" x="1111" y="2646">C00004</text></g>
<g id="C00199" class="cp"><rect x="343" y="2839" width="187" height="96"/><g class="m"><path class="b" d="M370,2878L380,2873L398,2883L417,2873L436,2883L452,2873L467,2883H510M396.5,2883V2899M399.5,2883V2899M417,2873L421,2857M487,2883V2868M485.5,2883V2899M488.5,2883V2899"/><path class="w" d="M436,2883L434,2897L440,2897Z"/><text class="a" x="361" y="2887">HO</text><text class="a" x="398" y="2907">O</text><text class="a" x="421" y="2857">OH</text><text class="a" x="437" y="2907">OH</text><text class="a" x="467" y="2887">O</text><text class="a" x="487" y="2887">P</text><text class="a" x="510" y="2887">OH</text><text class="a" x="490" y="2868">OH</text><text class="a" x="487" y="2907">O</text></g><text class="id" x="352" y="2925">C00199</text></g>
<g id="C00003_4" class="cp"><rect x="559" y="2801" width="303" height="172"/><g class="m" transform="translate(672,2896)"><use href="#nic"/><text class="a" x="-77" y="-18">N<tspan class="s" dy="-5">+</tspan></text><text class="a" y="4">O</text><use href="#pb"/><use href="#pb" x="40"/><use href="#adn2" x="80"/></g><text class="id" x="568" y="2963">C00003</text></g>
<g id="C00001_4" class="cp"><rect x="886" y="2855" width="72" height="64"/><use class="m" href="#wat" x="886" y="2855"/><text class="id" x="895" y="2909">C00001</text></g>
<g id="C00262" class="cp"><rect x="982" y="2835" width="112" height="105"/><g class="m"><path class="b" d="M1020.5,2854V2870M1023.5,2854V2870M1022,2870L1005,2878L1005,2896L1022,2906L1038,2896L1038,2878L1022,2870M1038,2878L1053,2868L1066,2880L1068,2896L1038,2896M1008,2894L1019,2901M1055,2872L1063,2881"/><text class="a" x="1022" y="2854">O</text><text class="a" x="1000" y="2882">HN</text><text class="a" x="1022" y="2910">N</text><text class="a" x="1053" y="2872">N</text><text class="a" x="1074" y="2900">NH</text></g><text class="id" x="991" y="2930">C00262</text></g>
<g id="C00014_2" class="cp"><rect x="1118" y="2849" width="72" height="77"/><use class="m" href="#nh3" x="1118" y="2849"/><text class="id" x="1127" y="2916">C00014</text></g>
<g id="C00117" class="cp"><rect x="898" y="3128" width="170" height="96"/><g class="m" transform="translate(1007,3143)"><use href="#fur"/><use href="#ph" x="-89" y="22"/><path class="b" d="M-16,10L-30,18L-40,21M16,10L36,5"/><text class="a" x="-65" y="45">OH</text><text class="a" x="42" y="9">OH</text></g><text class="id" x="907" y="3214">C00117</text></g>
<g id="C00147" class="cp"><rect x="1096" y="3120" width="91" height="113"/><g class="m"><path class="b" d="M1160,3137L1156,3156L1173,3164L1173,3182L1157,3192L1140,3182L1140,3164L1156,3156M1170,3168V3180M1143,3167L1154,3160M1140,3164L1120,3158L1110,3175L1120,3190L1140,3182M1117,3162L1110,3172"/><text class="a" x="1164" y="3137">NH<tspan class="s" dy="3">2</tspan></text><text class="a" x="1174" y="3168">N</text><text class="a" x="1157" y="3196">N</text><text class="a" x="1120" y="3162">N</text><text class="a" x="1120" y="3194">N</text><text class="a" x="1120" y="3206">H</text></g><text class="id" x="1105" y="3223">C00147</text></g>
<g id="C00001_5" class="cp"><rect x="1212" y="3144" width="71" height="64"/><use class="m" href="#wat" x="1212" y="3144"/><text class="id" x="1221" y="3198">C00001</text></g>
<g id="C00119" class="cp"><rect x="1481" y="3120" width="251" height="112"/><g class="m" transform="translate(1593,3152)"><use href="#fur"/><use href="#ph" x="-94" y="21"/><path class="b" d="M-16,10L-33,19L-45,21M16,10L30,6"/><text class="a" x="35" y="9">O</text><use href="#pw" x="35" y="5"/><path class="b" d="M84,5H117M95,5V-14M93.5,5V24M96.5,5V24"/><text class="a" x="95" y="9">P</text><text class="a" x="95" y="-10">HO</text><text class="a" x="95" y="28">O</text><text class="a" x="117" y="9">OH</text><text class="a" x="-70" y="44">OH</text></g><text class="id" x="1490" y="3222">C00119</text></g>
<g id="C00001_6" class="cp"><rect x="1021" y="3403" width="71" height="64"/><use class="m" href="#wat" x="1021" y="3403"/><text class="id" x="1030" y="3457">C00001</text></g>
<g id="C00020" class="cp"><rect x="1116" y="3379" width="247" height="112"/><g class="m" transform="translate(1138,3427)"><text class="a" y="4">HO</text><use href="#pa"/><use href="#adn" x="40"/></g><text class="id" x="1125" y="3481">C00020</text></g>
<g id="C00013" class="cp"><rect x="1386" y="3389" width="122" height="91"/><g class="m" transform="translate(1406,3427)"><text class="a" y="4">HO</text><use href="#pb"/><path class="b" d="M49,0H82M60,0V19M58.5,0V-19M61.5,0V-19"/><text class="a" x="60" y="4">P</text><text class="a" x="60" y="-15">O</text><text class="a" x="60" y="23">OH</text><text class="a" x="82" y="4">OH</text></g><text class="id" x="1395" y="3470">C00013</text></g>
<g id="C00002_3" class="cp"><rect x="1075" y="3636" width="329" height="111"/><g class="m" transform="translate(1099,3683)"><text class="a" y="4">HO</text><use href="#pa"/><use href="#pa" x="40"/><use href="#pa" x="80"/><use href="#adn" x="120"/></g><text class="id" x="1084" y="3737">C00002</text></g>
</svg>
